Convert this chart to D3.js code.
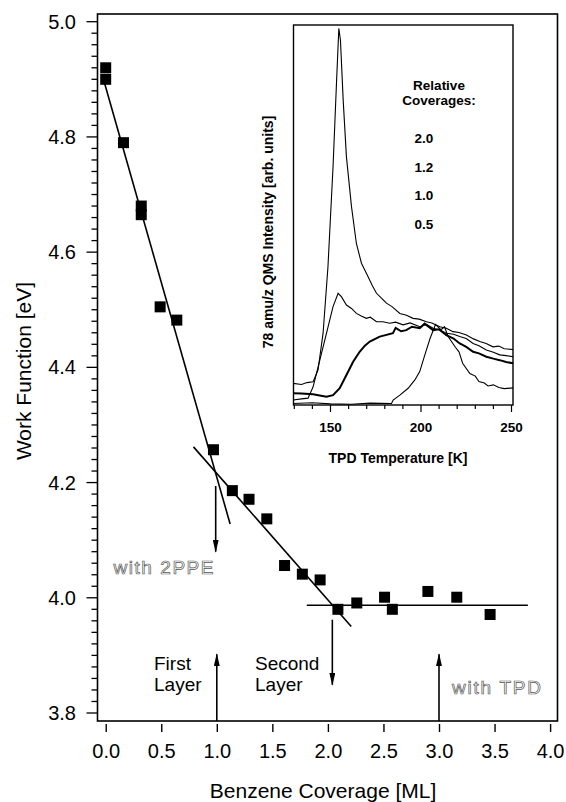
<!DOCTYPE html>
<html>
<head>
<meta charset="utf-8">
<script src="https://cdn.jsdelivr.net/npm/d3@7"></script>
<style>
body { margin: 0; background: #fff; }
svg { display: block; font-family: "Liberation Sans", Arial, Helvetica, sans-serif; }
</style>
</head>
<body>
<svg id="chart" width="566" height="802"></svg>
<script>
// main plot: work function vs coverage
var coverage = [0.0, 0.0, 0.16, 0.32, 0.32, 0.49, 0.64, 0.97, 1.14, 1.29, 1.45, 1.61, 1.77, 1.93, 2.09, 2.26, 2.51, 2.58, 2.90, 3.16, 3.46];
var workFunction = [4.92, 4.90, 4.79, 4.68, 4.665, 4.505, 4.482, 4.257, 4.186, 4.171, 4.137, 4.056, 4.041, 4.031, 3.980, 3.991, 4.001, 3.980, 4.011, 4.001, 3.971];

// fitted straight lines [x1, y1, x2, y2]
var fitLines = [
    [-0.01, 4.893, 1.12, 4.128],
    [0.79, 4.262, 2.21, 3.950],
    [1.81, 3.987, 3.80, 3.987]
];

// arrows [x, yFrom, yTo]
var arrows = [
    [0.99, 4.194, 4.080],
    [1.00, 3.786, 3.902],
    [2.04, 3.962, 3.849],
    [3.00, 3.786, 3.902]
];

var xTicks = [0.0, 0.5, 1.0, 1.5, 2.0, 2.5, 3.0, 3.5, 4.0];
var yTicks = [3.8, 4.0, 4.2, 4.4, 4.6, 4.8, 5.0];

// inset: TPD spectra
var tpdTicks = [150, 200, 250];
var coverageLabels = ["2.0", "1.2", "1.0", "0.5"];
var tpd20 = [[129.3,5.7],[134,5.4],[137,5.9],[140.4,6.1],[143.1,9.2],[145.9,18.9],[148.6,36.4],[151.4,62.7],[153.3,84.6],[154.6,99.1],[155.5,96],[157,80.3],[158.8,65.3],[161.6,52.2],[164.3,42.5],[167.1,37.3],[170.7,33.8],[173,31.5],[175.4,29.4],[178,28.2],[180.9,26.8],[184,25.9],[188.3,24.1],[192,23.6],[195.6,22.8],[199,22.6],[203,21.9],[206,21.6],[210.4,20.6],[214,20.2],[217.7,19.3],[221,19.1],[225.1,18.4],[229,17.4],[232.5,16.7],[236,16.2],[239.8,15.3],[243,15.5],[246,14.8],[250.9,14.6]];
var tpd12 = [[129.3,1.3],[134,1.6],[137.6,1.8],[140.4,4.8],[144.1,11.8],[147.8,18.9],[151.4,25.9],[154.2,29.4],[156,28.5],[158.8,26.3],[161.6,25.4],[164.3,24.1],[167,23.4],[169.8,22.8],[172,23.1],[175.4,21.9],[179,21.9],[182.7,21.5],[186,21.8],[190.1,21.1],[194,21.6],[199.3,20.6],[203,21.2],[206.7,20.2],[210,19.8],[214,18.9],[218,18.6],[221.4,18],[225,17.5],[228.8,16.2],[232,15.6],[236.1,14.5],[240,13.9],[243.5,13.2],[247,13.0],[250.9,12.7]];
var tpd10 = [[129.3,3.1],[134,3.0],[140.4,2.8],[144,2.5],[147.8,2.2],[151.4,2.6],[155.1,4.4],[158.8,7.9],[162.5,11.4],[166.1,14],[169,15.6],[171.7,16.7],[177.2,18],[184.5,18.9],[186,20.3],[189,19.4],[191.9,19.7],[195,20.6],[199.3,20.2],[202,21.4],[206.7,19.7],[210,19.9],[214,18.4],[218,17.5],[221.4,16.2],[225,15.3],[228.8,14],[232,13.6],[236.1,12.7],[240,12.2],[243.5,11.8],[247,11.3],[250.9,11.0]];
var tpd05 = [[129.3,0.4],[140,0.6],[150,0.3],[161.6,0.2],[172,0.5],[183.7,0.4],[184.6,1.3],[188.3,2.6],[192.9,4.4],[196.6,6.6],[199.3,8.8],[202,13],[205,17.5],[208,21.2],[211,19.8],[213,20.6],[215,18],[219,15.2],[221,14],[223,11],[227,8.3],[230,7.6],[232,6.2],[235,5.8],[237,5.0],[240,5.3],[243,4.6],[246,4.3],[250.9,4.5]];

var svg = d3.select("#chart");
var frame = {left: 97.5, right: 557.5, top: 14, bottom: 721};

var xScale = d3.scaleLinear().domain([0, 4]).range([105.7, 550.1]);
var yScale = d3.scaleLinear().domain([3.8, 5.0]).range([713, 21.7]);

// frame
svg.append("rect")
    .attr("x", frame.left)
    .attr("y", frame.top)
    .attr("width", frame.right - frame.left)
    .attr("height", frame.bottom - frame.top)
    .attr("fill", "none")
    .attr("stroke", "#000")
    .attr("stroke-width", 1.6);

// y ticks every 0.02, labels every 0.2
var yMinor = d3.range(0, 61).map(function(i) { return 3.8 + i * 0.02; });
svg.append("g").selectAll("line")
    .data(yMinor)
    .enter().append("line")
    .attr("x1", function(d, i) { return i % 10 == 0 ? frame.left - 11 : frame.left - 6; })
    .attr("x2", frame.left)
    .attr("y1", function(d) { return yScale(d); })
    .attr("y2", function(d) { return yScale(d); })
    .attr("stroke", "#000")
    .attr("stroke-width", 1.3);

svg.append("g").selectAll("text")
    .data(yTicks)
    .enter().append("text")
    .attr("x", 76)
    .attr("y", function(d) { return yScale(d) + 7; })
    .attr("text-anchor", "end")
    .attr("font-size", 20)
    .text(function(d) { return d.toFixed(1); });

// x axis sits just under the frame
var xAxis = svg.append("g")
    .attr("transform", "translate(0," + (frame.bottom + 1) + ")")
    .call(d3.axisBottom(xScale).tickValues(xTicks).tickSize(10).tickPadding(12).tickFormat(d3.format(".1f")));
xAxis.select(".domain").remove();
xAxis.selectAll(".tick line").attr("stroke-width", 1.4).attr("y1", 2);
xAxis.selectAll(".tick text")
    .attr("font-size", 20)
    .attr("font-family", "Liberation Sans, Arial, sans-serif")
    .attr("fill", "#000");

svg.append("text")
    .attr("x", 323)
    .attr("y", 798)
    .attr("text-anchor", "middle")
    .attr("font-size", 21)
    .text("Benzene Coverage [ML]");

svg.append("text")
    .attr("transform", "translate(31,371) rotate(-90)")
    .attr("text-anchor", "middle")
    .attr("font-size", 21)
    .text("Work Function [eV]");

// fit lines
svg.append("g").selectAll("line")
    .data(fitLines)
    .enter().append("line")
    .attr("x1", function(d) { return xScale(d[0]); })
    .attr("y1", function(d) { return yScale(d[1]); })
    .attr("x2", function(d) { return xScale(d[2]); })
    .attr("y2", function(d) { return yScale(d[3]); })
    .attr("stroke", "#000")
    .attr("stroke-width", 1.6);

// data squares
var sq = 11;
svg.append("g").selectAll("rect")
    .data(coverage)
    .enter().append("rect")
    .attr("x", function(d) { return xScale(d) - sq / 2; })
    .attr("y", function(d, i) { return yScale(workFunction[i]) - sq / 2; })
    .attr("width", sq)
    .attr("height", sq)
    .attr("fill", "#000");

// arrows
svg.append("defs").append("marker")
    .attr("id", "head")
    .attr("viewBox", "0 0 13 6")
    .attr("refX", 12)
    .attr("refY", 3)
    .attr("markerWidth", 13)
    .attr("markerHeight", 6)
    .attr("markerUnits", "userSpaceOnUse")
    .attr("orient", "auto")
    .append("path")
    .attr("d", "M0,0 L13,3 L0,6 Z")
    .attr("fill", "#000");

svg.append("g").selectAll("line")
    .data(arrows)
    .enter().append("line")
    .attr("x1", function(d) { return xScale(d[0]); })
    .attr("x2", function(d) { return xScale(d[0]); })
    .attr("y1", function(d) { return yScale(d[1]); })
    .attr("y2", function(d) { return yScale(d[2]); })
    .attr("stroke", "#000")
    .attr("stroke-width", 1.6)
    .attr("marker-end", "url(#head)");

// hand labels
svg.append("text").attr("x", 154).attr("y", 670).attr("font-size", 19).text("First");
svg.append("text").attr("x", 154).attr("y", 691).attr("font-size", 19).text("Layer");
svg.append("text").attr("x", 255).attr("y", 670).attr("font-size", 19).text("Second");
svg.append("text").attr("x", 255).attr("y", 691).attr("font-size", 19).text("Layer");

svg.append("text")
    .attr("x", 113.5).attr("y", 574)
    .attr("font-size", 19)
    .attr("textLength", 100)
    .attr("fill", "#fff")
    .attr("stroke", "#555")
    .attr("stroke-width", 0.7)
    .text("with 2PPE");
svg.append("text")
    .attr("x", 452).attr("y", 694)
    .attr("font-size", 19)
    .attr("textLength", 89)
    .attr("fill", "#fff")
    .attr("stroke", "#555")
    .attr("stroke-width", 0.7)
    .text("with TPD");

// inset
var inset = {left: 293.5, right: 513, top: 25, bottom: 405};
var tScale = d3.scaleLinear().domain([150, 250]).range([330.5, 511.5]);
var iScale = d3.scaleLinear().domain([0, 100]).range([inset.bottom, inset.top]);

svg.append("rect")
    .attr("x", inset.left)
    .attr("y", inset.top)
    .attr("width", inset.right - inset.left)
    .attr("height", inset.bottom - inset.top)
    .attr("fill", "#fff")
    .attr("stroke", "#000")
    .attr("stroke-width", 1.4);

var tMinor = d3.range(130, 251, 10);
svg.append("g").selectAll("line")
    .data(tMinor)
    .enter().append("line")
    .attr("x1", function(d) { return tScale(d); })
    .attr("x2", function(d) { return tScale(d); })
    .attr("y1", inset.bottom)
    .attr("y2", function(d) { return d % 50 == 0 ? inset.bottom + 7 : inset.bottom + 4; })
    .attr("stroke", "#000")
    .attr("stroke-width", 1.2);

svg.append("g").selectAll("text")
    .data(tpdTicks)
    .enter().append("text")
    .attr("x", function(d) { return tScale(d); })
    .attr("y", 432)
    .attr("text-anchor", "middle")
    .attr("font-size", 13.5)
    .attr("font-weight", "bold")
    .text(function(d) { return d; });

svg.append("text")
    .attr("x", 398)
    .attr("y", 463)
    .attr("text-anchor", "middle")
    .attr("font-size", 14)
    .attr("font-weight", "bold")
    .text("TPD Temperature [K]");

svg.append("text")
    .attr("transform", "translate(273,232) rotate(-90)")
    .attr("text-anchor", "middle")
    .attr("font-size", 14)
    .attr("font-weight", "bold")
    .text("78 amu/z QMS Intensity [arb. units]");

var curve = d3.line()
    .x(function(d) { return tScale(d[0]); })
    .y(function(d) { return iScale(d[1]); });

var spectra = [tpd20, tpd12, tpd10, tpd05];
var widths = [1.1, 1.1, 2.0, 1.1];
svg.append("g").selectAll("path")
    .data(spectra)
    .enter().append("path")
    .attr("d", curve)
    .attr("fill", "none")
    .attr("stroke", "#000")
    .attr("stroke-width", function(d, i) { return widths[i]; });

svg.append("text").attr("x", 439).attr("y", 90).attr("text-anchor", "middle")
    .attr("font-size", 13.5).attr("font-weight", "bold").text("Relative");
svg.append("text").attr("x", 439).attr("y", 105).attr("text-anchor", "middle")
    .attr("font-size", 13.5).attr("font-weight", "bold").text("Coverages:");

svg.append("g").selectAll("text")
    .data(coverageLabels)
    .enter().append("text")
    .attr("x", 424)
    .attr("y", function(d, i) { return 143 + i * 28.5; })
    .attr("text-anchor", "middle")
    .attr("font-size", 13.5)
    .attr("font-weight", "bold")
    .text(function(d) { return d; });
</script>
</body>
</html>
